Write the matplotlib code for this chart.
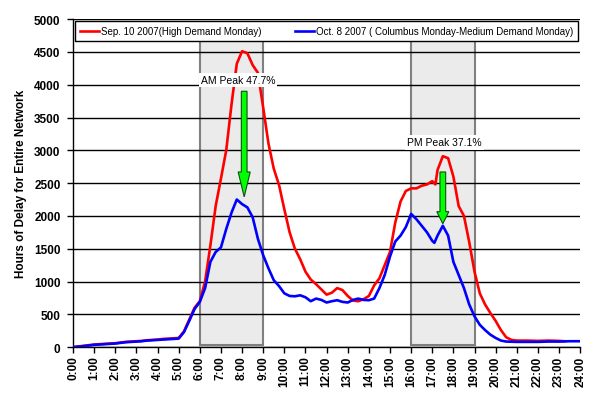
#!/usr/bin/env python3

import matplotlib
matplotlib.use("Agg")
import matplotlib.pyplot as plt
from matplotlib.patches import Rectangle, FancyArrow

# time of day in hours
hours_sep = [0.0, 0.25, 0.5, 0.75, 1.0, 1.25, 1.5, 1.75, 2.0, 2.25, 2.5, 2.75,
             3.0, 3.25, 3.5, 3.75, 4.0, 4.25, 4.5, 4.75, 5.0, 5.25, 5.5, 5.75,
             6.0, 6.25, 6.5, 6.75, 7.0, 7.25, 7.5, 7.75, 8.0, 8.25, 8.5, 8.75,
             9.0, 9.25, 9.5, 9.75, 10.0, 10.25, 10.5, 10.75, 11.0, 11.25, 11.5,
             11.75, 12.0, 12.25, 12.5, 12.75, 13.0, 13.25, 13.5, 13.75, 14.0,
             14.25, 14.5, 14.75, 15.0, 15.25, 15.5, 15.75, 16.0, 16.25, 16.5,
             16.75, 17.0, 17.15, 17.25, 17.5, 17.75, 18.0, 18.25, 18.5, 18.75,
             19.0, 19.25, 19.5, 19.75, 20.0, 20.25, 20.5, 20.75, 21.0, 21.5,
             22.0, 22.5, 23.0, 23.25]
delay_sep = [0, 10, 20, 30, 40, 45, 50, 55, 60, 70, 80, 85,
             90, 95, 105, 110, 115, 125, 130, 135, 140, 240, 420, 600,
             700, 1000, 1550, 2150, 2570, 3000, 3700, 4320, 4510, 4480, 4300, 4180,
             3650, 3100, 2720, 2470, 2100, 1750, 1500, 1340, 1150, 1030, 960,
             880, 800, 830, 900, 870, 780, 710, 700, 730, 780,
             940, 1050, 1250, 1450, 1900, 2220, 2380, 2420, 2420, 2460,
             2480, 2530, 2480, 2700, 2910, 2880, 2600, 2150, 2000, 1600,
             1150, 820, 650, 520, 400, 260, 150, 110, 100, 100,
             95, 100, 95, 90]

hours_oct = [0.0, 0.25, 0.5, 0.75, 1.0, 1.25, 1.5, 1.75, 2.0, 2.25, 2.5, 2.75,
             3.0, 3.25, 3.5, 3.75, 4.0, 4.25, 4.5, 4.75, 5.0, 5.25, 5.5, 5.75,
             6.0, 6.25, 6.5, 6.75, 7.0, 7.25, 7.5, 7.75, 8.0, 8.25, 8.5, 8.75,
             9.0, 9.25, 9.5, 9.75, 10.0, 10.25, 10.5, 10.75, 11.0, 11.25, 11.5,
             11.75, 12.0, 12.25, 12.5, 12.75, 13.0, 13.25, 13.5, 13.75, 14.0,
             14.25, 14.5, 14.75, 15.0, 15.25, 15.5, 15.75, 16.0, 16.25, 16.5,
             16.75, 17.0, 17.1, 17.25, 17.5, 17.75, 18.0, 18.25, 18.5, 18.75,
             19.0, 19.25, 19.5, 19.75, 20.0, 20.25, 20.5, 21.0, 21.5, 22.0,
             22.5, 23.0, 23.5, 24.0]
delay_oct = [0, 8, 15, 25, 35, 40, 45, 50, 55, 65, 75, 80,
             85, 90, 100, 105, 110, 115, 120, 125, 130, 230, 400, 580,
             690, 900, 1300, 1450, 1520, 1800, 2050, 2250, 2180, 2130, 1980, 1650,
             1400, 1200, 1020, 930, 820, 780, 775, 790, 760, 700, 740,
             720, 680, 700, 715, 690, 680, 720, 740, 720, 715,
             740, 900, 1100, 1380, 1610, 1700, 1830, 2030, 1950, 1850,
             1750, 1620, 1590, 1700, 1850, 1700, 1300, 1100, 900, 650,
             470, 340, 260, 190, 140, 100, 85, 80, 80, 80,
             85, 85, 90, 90]

label_sep = "Sep. 10 2007(High Demand Monday)"
label_oct = "Oct. 8 2007 ( Columbus Monday-Medium Demand Monday)"

peak_windows = [(6, 9), (16, 19)]
peak_labels = ["AM Peak 47.7%", "PM Peak 37.1%"]
# (text x, text y), arrow x, arrow top, arrow tip, head length
label_pos = [(6.05, 4070), (15.8, 3120)]
arrow_x = [8.1, 17.5]
arrow_top = [3900, 2670]
arrow_tip = [2290, 1880]
arrow_head = [380, 185]

hour_ticks = list(range(0, 25))
hour_labels = [f"{h}:00" for h in hour_ticks]
delay_ticks = list(range(0, 5001, 500))


def main():
    plt.rcParams["font.family"] = ["Liberation Sans", "DejaVu Sans"]

    fig = plt.figure(figsize=(5.89, 4.02), dpi=100)
    ax = fig.add_axes([0.124, 0.134, 0.861, 0.816])

    # shaded peak periods
    for x0, x1 in peak_windows:
        ax.add_patch(Rectangle((x0, 40), x1 - x0, 4660, facecolor="#EBEBEB",
                               edgecolor="#808080", linewidth=1.5, zorder=1))

    ax.plot(hours_sep, delay_sep, color="#FF0000", lw=1.9, label=label_sep, zorder=3)
    ax.plot(hours_oct, delay_oct, color="#0000FF", lw=1.9, label=label_oct, zorder=3)

    # arrows + labels
    for (tx, ty), txt, xa, ya, yb, hl in zip(label_pos, peak_labels, arrow_x,
                                            arrow_top, arrow_tip, arrow_head):
        ax.text(tx, ty, txt, fontsize=7.5, va="center", ha="left", zorder=4,
                bbox=dict(facecolor="white", edgecolor="none", pad=1.5))
        ax.add_patch(FancyArrow(xa, ya, 0, yb - ya, width=0.27, head_width=0.57,
                                head_length=hl, length_includes_head=True,
                                facecolor="#00FF00", edgecolor="#105010",
                                linewidth=0.8, zorder=5))

    ax.set_xlim(0, 24)
    ax.set_ylim(0, 5000)
    ax.set_xticks(hour_ticks)
    ax.set_xticklabels(hour_labels, rotation=90, fontsize=8.5, fontweight="bold")
    ax.set_yticks(delay_ticks)
    ax.set_yticklabels([str(v) for v in delay_ticks], fontsize=8.5, fontweight="bold")
    ax.tick_params(direction="out", length=4, width=1, color="black", pad=2)
    ax.tick_params(axis="y", pad=5)
    ax.set_ylabel("Hours of Delay for Entire Network", fontsize=8.5,
                  fontweight="bold", labelpad=5)

    ax.yaxis.grid(True, color="black", linewidth=1)
    ax.set_axisbelow("line")
    ax.spines["top"].set_visible(False)
    ax.spines["right"].set_visible(False)
    for s in ("left", "bottom"):
        ax.spines[s].set_linewidth(1)
        ax.spines[s].set_color("black")

    leg = ax.legend(loc="upper left", bbox_to_anchor=(0.004, 0.994, 0.992, 0),
                    mode="expand", ncol=2, fontsize=7, frameon=True,
                    fancybox=False, framealpha=1, edgecolor="black",
                    handlelength=2.0, handletextpad=0.2, borderpad=0.5,
                    borderaxespad=0.0, columnspacing=1.0)
    leg.get_frame().set_linewidth(1)
    leg.set_zorder(10)

    fig.savefig("out.png", dpi=100)
    plt.close(fig)


if __name__ == "__main__":
    main()
